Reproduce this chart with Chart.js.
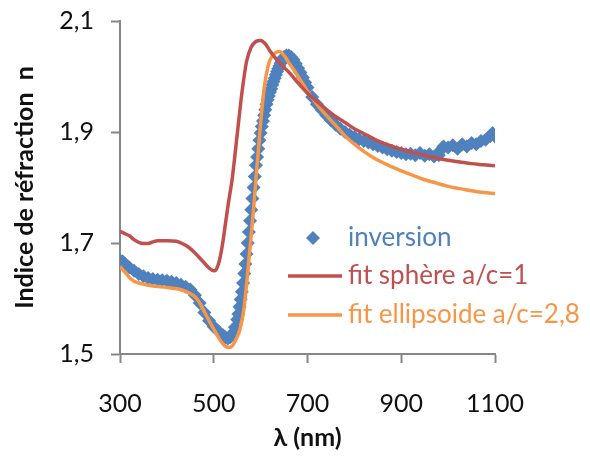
<!DOCTYPE html>
<html lang="fr">
<head>
  <meta charset="UTF-8">
  <script src="https://cdn.jsdelivr.net/npm/chart.js@4"></script>
  <title>Indice de réfraction</title>
  <style>
    body { margin: 0; background: #fff; }
  </style>
</head>
<body>
  <canvas id="indexChart" width="590" height="465"></canvas>
  <script>
    // wavelength (nm) / refractive index
    const inversionLambda = [300, 305, 310, 320, 330, 340, 350, 360, 370, 380, 390, 400, 410, 420, 430, 440, 450, 460, 470, 480,
      490, 500, 510, 520, 525, 530, 535, 540, 545, 550, 552.5, 555, 557.5, 560, 562.5, 565, 567.5, 570, 572.5, 575,
      577.5, 580, 582.5, 585, 587.5, 590, 592.5, 595, 597.5, 600, 602.5, 605, 607.5, 610, 612.5, 615, 617.5, 620, 622.5, 625,
      627.5, 630, 632.5, 635, 637.5, 640, 642.5, 645, 647.5, 650, 655, 660, 665, 670, 675, 680, 685, 690, 695, 700,
      710, 720, 730, 740, 750, 760, 770, 780, 790, 800, 810, 820, 830, 840, 850, 860, 870, 880, 890, 900,
      910, 920, 930, 940, 950, 960, 970, 980, 985, 990, 1000, 1010, 1020, 1030, 1040, 1050, 1060, 1070, 1080, 1090, 1095, 1100];
    const inversionN = [1.668, 1.667, 1.663, 1.656, 1.650, 1.644, 1.640, 1.637, 1.635, 1.634, 1.633, 1.632, 1.630, 1.628, 1.625, 1.621, 1.616, 1.606, 1.592, 1.575,
      1.560, 1.549, 1.541, 1.534, 1.530, 1.528, 1.530, 1.537, 1.548, 1.562, 1.572, 1.585, 1.598, 1.612, 1.628, 1.645, 1.662, 1.680, 1.700, 1.720,
      1.740, 1.760, 1.780, 1.800, 1.820, 1.840, 1.855, 1.870, 1.885, 1.898, 1.910, 1.920, 1.930, 1.940, 1.950, 1.958, 1.965, 1.972, 1.978, 1.985,
      1.991, 1.997, 2.003, 2.009, 2.014, 2.019, 2.024, 2.028, 2.032, 2.035, 2.038, 2.038, 2.035, 2.030, 2.023, 2.015, 2.007, 1.998, 1.989, 1.980,
      1.963, 1.950, 1.940, 1.930, 1.921, 1.913, 1.906, 1.900, 1.895, 1.891, 1.887, 1.884, 1.881, 1.878, 1.875, 1.872, 1.869, 1.866, 1.864, 1.862,
      1.860, 1.861, 1.858, 1.862, 1.857, 1.860, 1.856, 1.858, 1.868, 1.874, 1.872, 1.876, 1.870, 1.878, 1.874, 1.880, 1.878, 1.884, 1.886, 1.893, 1.898, 1.892];

    const sphereLambda = [300, 310, 320, 330, 340, 350, 360, 370, 380, 400, 420, 430, 440, 450, 460, 470, 480, 490, 500, 505,
      510, 515, 520, 525, 530, 540, 550, 560, 570, 580, 590, 600, 610, 620, 630, 640, 650, 660, 680, 700,
      720, 740, 760, 780, 800, 825, 850, 875, 900, 925, 950, 975, 1000, 1025, 1050, 1075, 1100];
    const sphereN = [1.721, 1.717, 1.713, 1.706, 1.701, 1.699, 1.699, 1.702, 1.704, 1.704, 1.703, 1.700, 1.696, 1.690, 1.682, 1.673, 1.664, 1.655, 1.650, 1.652,
      1.662, 1.680, 1.705, 1.735, 1.765, 1.820, 1.895, 1.970, 2.027, 2.053, 2.063, 2.065, 2.059, 2.046, 2.035, 2.025, 2.016, 2.008, 1.988, 1.970,
      1.955, 1.941, 1.928, 1.917, 1.906, 1.895, 1.884, 1.876, 1.869, 1.863, 1.858, 1.853, 1.849, 1.846, 1.843, 1.841, 1.839];

    const ellipsoidLambda = [300, 310, 320, 330, 340, 350, 360, 375, 400, 425, 440, 450, 460, 470, 480, 490, 500, 510, 520, 530,
      535, 540, 545, 550, 555, 560, 565, 570, 575, 580, 585, 590, 595, 600, 605, 610, 615, 620, 630, 640,
      650, 660, 670, 680, 690, 700, 720, 740, 760, 780, 800, 820, 840, 860, 880, 900, 925, 950, 975, 1000,
      1025, 1050, 1075, 1100];
    const ellipsoidN = [1.658, 1.648, 1.638, 1.631, 1.628, 1.626, 1.624, 1.622, 1.620, 1.617, 1.613, 1.609, 1.603, 1.592, 1.576, 1.560, 1.545, 1.530, 1.518, 1.512,
      1.512, 1.515, 1.522, 1.531, 1.542, 1.560, 1.585, 1.625, 1.670, 1.715, 1.762, 1.815, 1.865, 1.915, 1.960, 1.993, 2.015, 2.030, 2.042, 2.045,
      2.038, 2.025, 2.013, 2.000, 1.987, 1.973, 1.950, 1.930, 1.912, 1.893, 1.878, 1.865, 1.854, 1.845, 1.837, 1.830, 1.822, 1.814, 1.808, 1.802,
      1.798, 1.794, 1.791, 1.789];

    const xTicks = [300, 500, 700, 900, 1100];
    const yTicks = [1.5, 1.7, 1.9, 2.1];

    const BLUE = '#4F81BD', RED = '#C0504D', ORANGE = '#F79646', AXIS = '#868686';
    const FONT = 'Lato, "Open Sans", sans-serif';

    function pairs(xs, ys) {
      return xs.map((x, i) => ({ x: x, y: ys[i] }));
    }

    // legend drawn inside the plot, like the original
    const insideLegend = {
      id: 'insideLegend',
      afterDatasetsDraw(chart) {
        const ctx = chart.ctx;
        const a = chart.chartArea;
        const x0 = a.left + 168, tx = a.left + 228;
        const rows = [
          { text: 'inversion', color: BLUE, kind: 'diamond', y: a.top + 217 },
          { text: 'fit sphère a/c=1', color: RED, kind: 'line', y: a.top + 255 },
          { text: 'fit ellipsoide a/c=2,8', color: ORANGE, kind: 'line', y: a.top + 294 }
        ];
        ctx.save();
        ctx.font = '26px ' + FONT;
        ctx.textBaseline = 'middle';
        rows.forEach(r => {
          ctx.fillStyle = r.color;
          ctx.strokeStyle = r.color;
          if (r.kind === 'diamond') {
            const cx = x0 + 25, s = 7;
            ctx.beginPath();
            ctx.moveTo(cx, r.y - s);
            ctx.lineTo(cx + s, r.y);
            ctx.lineTo(cx, r.y + s);
            ctx.lineTo(cx - s, r.y);
            ctx.closePath();
            ctx.fill();
          } else {
            ctx.lineWidth = 3.5;
            ctx.beginPath();
            ctx.moveTo(x0, r.y);
            ctx.lineTo(x0 + 54, r.y);
            ctx.stroke();
          }
          ctx.fillText(r.text, tx, r.y);
        });
        ctx.restore();
      }
    };

    const ctx = document.getElementById('indexChart').getContext('2d');
    new Chart(ctx, {
      type: 'scatter',
      data: {
        datasets: [
          {
            label: 'fit sphère a/c=1',
            data: pairs(sphereLambda, sphereN),
            showLine: true,
            borderColor: RED,
            borderWidth: 3.5,
            pointRadius: 0,
            cubicInterpolationMode: 'monotone',
            order: 1
          },
          {
            label: 'fit ellipsoide a/c=2,8',
            data: pairs(ellipsoidLambda, ellipsoidN),
            showLine: true,
            borderColor: ORANGE,
            borderWidth: 3.5,
            pointRadius: 0,
            cubicInterpolationMode: 'monotone',
            order: 2
          },
          {
            label: 'inversion',
            data: pairs(inversionLambda, inversionN),
            showLine: false,
            pointStyle: 'rectRot',
            pointRadius: 7,
            borderWidth: 0,
            backgroundColor: BLUE,
            borderColor: BLUE,
            order: 3
          }
        ]
      },
      options: {
        responsive: false,
        animation: false,
        devicePixelRatio: 1,
        layout: { padding: { top: 21, right: 95, bottom: 0, left: 0 } },
        plugins: { legend: { display: false }, tooltip: { enabled: false } },
        scales: {
          x: {
            type: 'linear',
            min: 300,
            max: 1100,
            afterBuildTicks: s => { s.ticks = xTicks.map(v => ({ value: v })); },
            afterFit: s => { s.height = 111; s.paddingRight = 0; s.paddingLeft = 0; },
            grid: { drawOnChartArea: false, drawTicks: true, tickLength: 9, tickWidth: 2, color: AXIS },
            border: { display: true, color: AXIS, width: 2 },
            ticks: { color: '#111', padding: 26, font: { family: FONT, size: 25 }, maxRotation: 0, callback: v => String(v) },
            title: { display: true, text: 'λ (nm)', color: '#111', font: { family: FONT, size: 25, weight: 'bold' }, padding: { top: 0, bottom: 12 } }
          },
          y: {
            type: 'linear',
            min: 1.5,
            max: 2.1,
            afterBuildTicks: s => { s.ticks = yTicks.map(v => ({ value: v })); },
            afterFit: s => { s.width = 120; s.paddingTop = 0; s.paddingBottom = 0; },
            grid: { drawOnChartArea: false, drawTicks: true, tickLength: 9, tickWidth: 2, color: AXIS },
            border: { display: true, color: AXIS, width: 2 },
            ticks: {
              color: '#111',
              padding: 17,
              font: { family: FONT, size: 25 },
              callback: v => v.toFixed(1).replace('.', ',')
            },
            title: { display: true, text: 'Indice de réfraction  n', color: '#111', font: { family: FONT, size: 25, weight: 'bold' }, padding: { top: 10, bottom: 0 } }
          }
        }
      },
      plugins: [insideLegend]
    });
  </script>
</body>
</html>
